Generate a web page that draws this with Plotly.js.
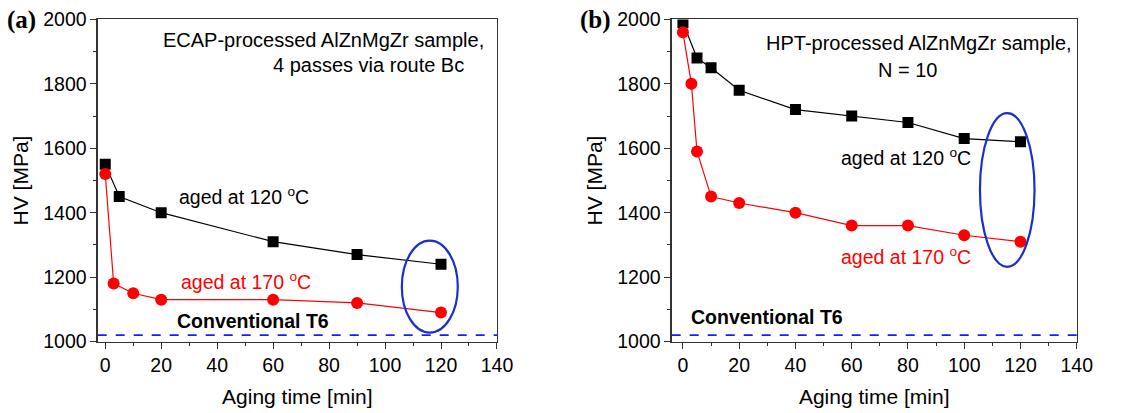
<!DOCTYPE html>
<html>
<head>
<meta charset="utf-8">
<script src="https://cdn.plot.ly/plotly-3.0.1.min.js"></script>
<style>html,body{margin:0;padding:0;background:#fff;}#chart{width:1148px;height:413px;}</style>
</head>
<body>
<div id="chart"></div>
<script>
// Panel (a): ECAP
const ecapTime120 = [0, 5, 20, 60, 90, 120];
const ecapHV120   = [1550, 1450, 1400, 1310, 1270, 1240];
const ecapTime170 = [0, 3, 10, 20, 60, 90, 120];
const ecapHV170   = [1520, 1180, 1150, 1130, 1130, 1120, 1090];
// Panel (b): HPT
const hptTime120 = [0, 5, 10, 20, 40, 60, 80, 100, 120];
const hptHV120   = [1990, 1880, 1850, 1780, 1720, 1700, 1680, 1630, 1620];
const hptTime170 = [0, 3, 5, 10, 20, 40, 60, 80, 100, 120];
const hptHV170   = [1960, 1800, 1590, 1450, 1430, 1400, 1360, 1360, 1330, 1310];
// Conventional T6 reference level
const t6HV = 1020;
const xTicks = [0, 20, 40, 60, 80, 100, 120, 140];
const yTicks = [1000, 1200, 1400, 1600, 1800, 2000];

const FONT = 'Liberation Sans, Arial, sans-serif';
const black = '#000000', red = '#ff0000', blue = '#1a2fd0';

function sq(x, y, xa, ya) {
  return {x: x, y: y, xaxis: xa, yaxis: ya, mode: 'lines+markers', type: 'scatter',
    line: {color: black, width: 1.2}, marker: {symbol: 'square', size: 11, color: black}, showlegend: false, hoverinfo: 'skip'};
}
function ci(x, y, xa, ya) {
  return {x: x, y: y, xaxis: xa, yaxis: ya, mode: 'lines+markers', type: 'scatter',
    line: {color: red, width: 1.2}, marker: {symbol: 'circle', size: 12, color: red}, showlegend: false, hoverinfo: 'skip'};
}
const data = [
  sq(ecapTime120, ecapHV120, 'x', 'y'),
  ci(ecapTime170, ecapHV170, 'x', 'y'),
  sq(hptTime120, hptHV120, 'x2', 'y2'),
  ci(hptTime170, hptHV170, 'x2', 'y2')
];

function xax(domain, range, anchor) {
  return {domain: domain, range: range, anchor: anchor, tickvals: xTicks, ticks: 'outside', ticklen: 6, tickwidth: 1,
    tickcolor: '#333', showline: true, linecolor: '#333', linewidth: 1.2, mirror: true, showgrid: false, zeroline: false,
    tickfont: {family: FONT, size: 19.5, color: black},
    minor: {dtick: 10, ticks: 'outside', ticklen: 3, tickcolor: '#333', showgrid: false},
    title: {text: 'Aging time [min]', font: {family: FONT, size: 21, color: black}, standoff: 14}};
}
function yax(domain, anchor) {
  return {domain: domain, range: [1000, 2000], anchor: anchor, tickvals: yTicks, ticks: 'outside', ticklen: 6, tickwidth: 1,
    tickcolor: '#333', showline: true, linecolor: '#333', linewidth: 1.2, mirror: true, showgrid: false, zeroline: false,
    tickfont: {family: FONT, size: 19.5, color: black},
    minor: {dtick: 100, ticks: 'outside', ticklen: 3, tickcolor: '#333', showgrid: false},
    title: {text: 'HV [MPa]', font: {family: FONT, size: 21, color: black}, standoff: 8}};
}
const yDom = [0.173, 0.953];

function ann(text, x, y, xref, yref, xanchor, color, bold, size) {
  return {text: bold ? '<b>' + text + '</b>' : text, x: x, y: y, xref: xref, yref: yref, xanchor: xanchor, yanchor: 'middle',
    showarrow: false, font: {family: FONT, size: size || 19.5, color: color}};
}

const layout = {
  width: 1148, height: 413,
  margin: {l: 0, r: 0, t: 0, b: 0},
  paper_bgcolor: '#fff', plot_bgcolor: '#fff',
  xaxis: xax([0.0851, 0.4329], [-2.7, 140], 'y'),
  yaxis: yax(yDom, 'x'),
  xaxis2: xax([0.5851, 0.9379], [-4, 140], 'y2'),
  yaxis2: yax(yDom, 'x2'),
  shapes: [
    {type: 'line', xref: 'x domain', yref: 'y', x0: 0, x1: 1, y0: t6HV, y1: t6HV, line: {color: '#1a1aff', width: 1.6, dash: 'dash'}},
    {type: 'line', xref: 'x2 domain', yref: 'y2', x0: 0, x1: 1, y0: t6HV, y1: t6HV, line: {color: '#1a1aff', width: 1.6, dash: 'dash'}},
    {type: 'circle', xref: 'x', yref: 'y', x0: 106, x1: 126, y0: 1028, y1: 1313, line: {color: blue, width: 2.2}},
    {type: 'circle', xref: 'x2', yref: 'y2', x0: 105.6, x1: 125, y0: 1232, y1: 1709, line: {color: blue, width: 2.2}}
  ],
  annotations: [
    ann('ECAP-processed AlZnMgZr sample,', 136, 1935, 'x', 'y', 'right', black, false, 20),
    ann('4 passes via route Bc', 128.8, 1857, 'x', 'y', 'right', black, false, 20),
    ann('aged at 120 <sup>o</sup>C', 25.5, 1452, 'x', 'y', 'left', black),
    ann('aged at 170 <sup>o</sup>C', 26.3, 1187, 'x', 'y', 'left', red),
    ann('Conventional T6', 24.9, 1065, 'x', 'y', 'left', black, true),
    ann('HPT-processed AlZnMgZr sample,', 139.2, 1927, 'x2', 'y2', 'right', black, false, 20),
    ann('N = 10', 80, 1843, 'x2', 'y2', 'center', black, false, 20),
    ann('aged at 120 <sup>o</sup>C', 55.5, 1574, 'x2', 'y2', 'left', black),
    ann('aged at 170 <sup>o</sup>C', 55.6, 1265, 'x2', 'y2', 'left', red),
    ann('Conventional T6', 2.1, 1077, 'x2', 'y2', 'left', black, true),
    {text: '<b>(a)</b>', x: 5 / 1148, y: 1 - 20 / 413, xref: 'paper', yref: 'paper', xanchor: 'left', yanchor: 'middle', showarrow: false,
      font: {family: 'Liberation Serif, Times New Roman, serif', size: 25, color: black}},
    {text: '<b>(b)</b>', x: 578 / 1148, y: 1 - 20 / 413, xref: 'paper', yref: 'paper', xanchor: 'left', yanchor: 'middle', showarrow: false,
      font: {family: 'Liberation Serif, Times New Roman, serif', size: 25, color: black}}
  ]
};

Plotly.newPlot('chart', data, layout, {displayModeBar: false, staticPlot: true});
</script>
</body>
</html>
